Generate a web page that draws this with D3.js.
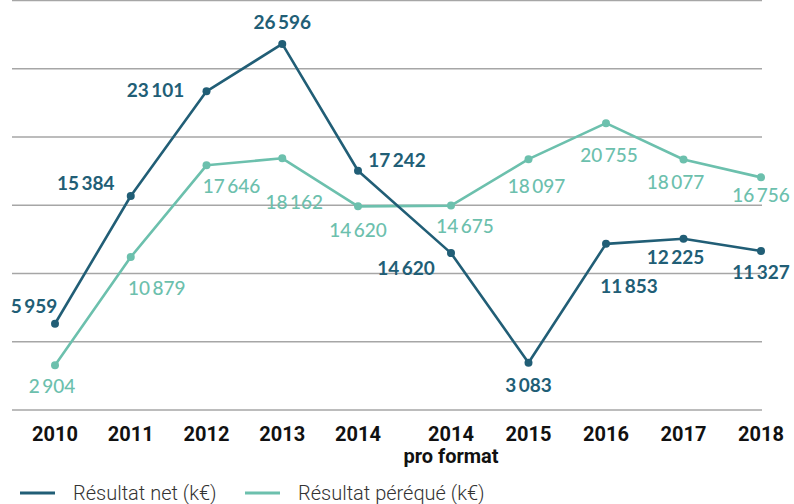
<!DOCTYPE html>
<html>
<head>
<meta charset="utf-8">
<script src="https://cdn.jsdelivr.net/npm/d3@7"></script>
<style>
  body { margin: 0; background: #fff; }
  svg { display: block; }
  .grid line { stroke: #a6a6a6; stroke-width: 1.4; }
  .year { font-family: Roboto, sans-serif; font-weight: 700; font-size: 20px; fill: #111; text-anchor: middle; }
  .val { font-family: Lato, sans-serif; font-size: 19px; text-anchor: middle; }
  .legend text { font-family: Roboto, sans-serif; font-weight: 300; font-size: 20px; fill: #333; }
</style>
</head>
<body>
<svg id="chart" width="794" height="504"></svg>
<script>
// categories (second 2014 is the "pro format" restatement)
var years = ["2010", "2011", "2012", "2013", "2014", "2014 pf", "2015", "2016", "2017", "2018"];
var yearTop = ["2010", "2011", "2012", "2013", "2014", "2014", "2015", "2016", "2017", "2018"];
var yearSub = ["", "", "", "", "", "pro format", "", "", "", ""];

// plotted values (the pro format net point is drawn lower than its printed figure)
var resultatNet = [5959, 15384, 23101, 26596, 17242, 11170, 3083, 11853, 12225, 11327];
var resultatPerequ = [2904, 10879, 17646, 18162, 14620, 14675, 18097, 20755, 18077, 16756];

// printed figures
var resultatNetLabels = [5959, 15384, 23101, 26596, 17242, 14620, 3083, 11853, 12225, 11327];
var resultatPerequLabels = [2904, 10879, 17646, 18162, 14620, 14675, 18097, 20755, 18077, 16756];

var seriesNames = ["Résultat net (k€)", "Résultat péréqué (k€)"];
var colors = ["#215e76", "#6cc0ad"];

// where each value label sits relative to its point (px)
var netNudge = [[-21, -18], [-45, -13], [-51, -1], [0, -22], [39, -11], [-45, 15], [0, 22], [23, 42], [-8, 18], [0, 21]];
var perNudge = [[-3, 21], [26, 31], [25, 21], [12, 44], [0, 24], [14, 21], [8, 27], [3, 32], [-8, 23], [0, 18]];

var svg = d3.select("#chart");

var x = d3.scaleLinear()
    .domain([0, 4, 5, 9])
    .range([55, 358, 451, 761]);

var y = d3.scaleLinear()
    .domain([-400, 29800])
    .range([410, 0.5]);

var gridVals = d3.range(7).map(function (k) { return -400 + k * 30200 / 6; });

svg.append("g")
    .attr("class", "grid")
    .selectAll("line")
    .data(gridVals)
    .enter()
    .append("line")
    .attr("x1", 12)
    .attr("x2", 762)
    .attr("y1", function (d) { return y(d); })
    .attr("y2", function (d) { return y(d); });

// x labels
var xl = svg.append("g");
xl.selectAll(".year")
    .data(yearTop)
    .enter()
    .append("text")
    .attr("class", "year")
    .attr("x", function (d, i) { return x(i); })
    .attr("y", 441)
    .text(function (d) { return d; });
xl.selectAll(".sub")
    .data(yearSub)
    .enter()
    .append("text")
    .attr("class", "year sub")
    .attr("x", function (d, i) { return x(i); })
    .attr("y", 463)
    .text(function (d) { return d; });

var fmt = function (v) {
    return d3.format(",")(v).replace(/,/g, "\u2009");
};

var line = d3.line()
    .x(function (d, i) { return x(i); })
    .y(function (d) { return y(d); });

var series = [
    { values: resultatNet, labels: resultatNetLabels, color: colors[0], nudge: netNudge, weight: 700 },
    { values: resultatPerequ, labels: resultatPerequLabels, color: colors[1], nudge: perNudge, weight: 500 }
];

// draw teal first so the dark line sits on top
series.slice().reverse().forEach(function (s) {
    var g = svg.append("g");

    g.append("path")
        .datum(s.values)
        .attr("fill", "none")
        .attr("stroke", s.color)
        .attr("stroke-width", 2.6)
        .attr("stroke-linejoin", "round")
        .attr("d", line);

    g.selectAll("circle")
        .data(s.values)
        .enter()
        .append("circle")
        .attr("cx", function (d, i) { return x(i); })
        .attr("cy", function (d) { return y(d); })
        .attr("r", 4)
        .attr("fill", s.color);

    g.selectAll(".val")
        .data(s.values)
        .enter()
        .append("text")
        .attr("class", "val")
        .attr("fill", s.color)
        .style("font-weight", s.weight)
        .attr("x", function (d, i) { return x(i) + s.nudge[i][0]; })
        .attr("y", function (d, i) { return y(d) + s.nudge[i][1]; })
        .attr("dy", "0.36em")
        .text(function (d, i) { return fmt(s.labels[i]); });
});

// legend
var legend = svg.append("g").attr("class", "legend");
var legendX = [20, 245];
var legendItems = legend.selectAll("g")
    .data(seriesNames)
    .enter()
    .append("g")
    .attr("transform", function (d, i) { return "translate(" + legendX[i] + ",493)"; });
legendItems.append("line")
    .attr("x1", 0)
    .attr("x2", 35)
    .attr("stroke", function (d, i) { return colors[i]; })
    .attr("stroke-width", 3);
legendItems.append("text")
    .attr("x", 53)
    .attr("y", 7)
    .text(function (d) { return d; });
</script>
</body>
</html>
